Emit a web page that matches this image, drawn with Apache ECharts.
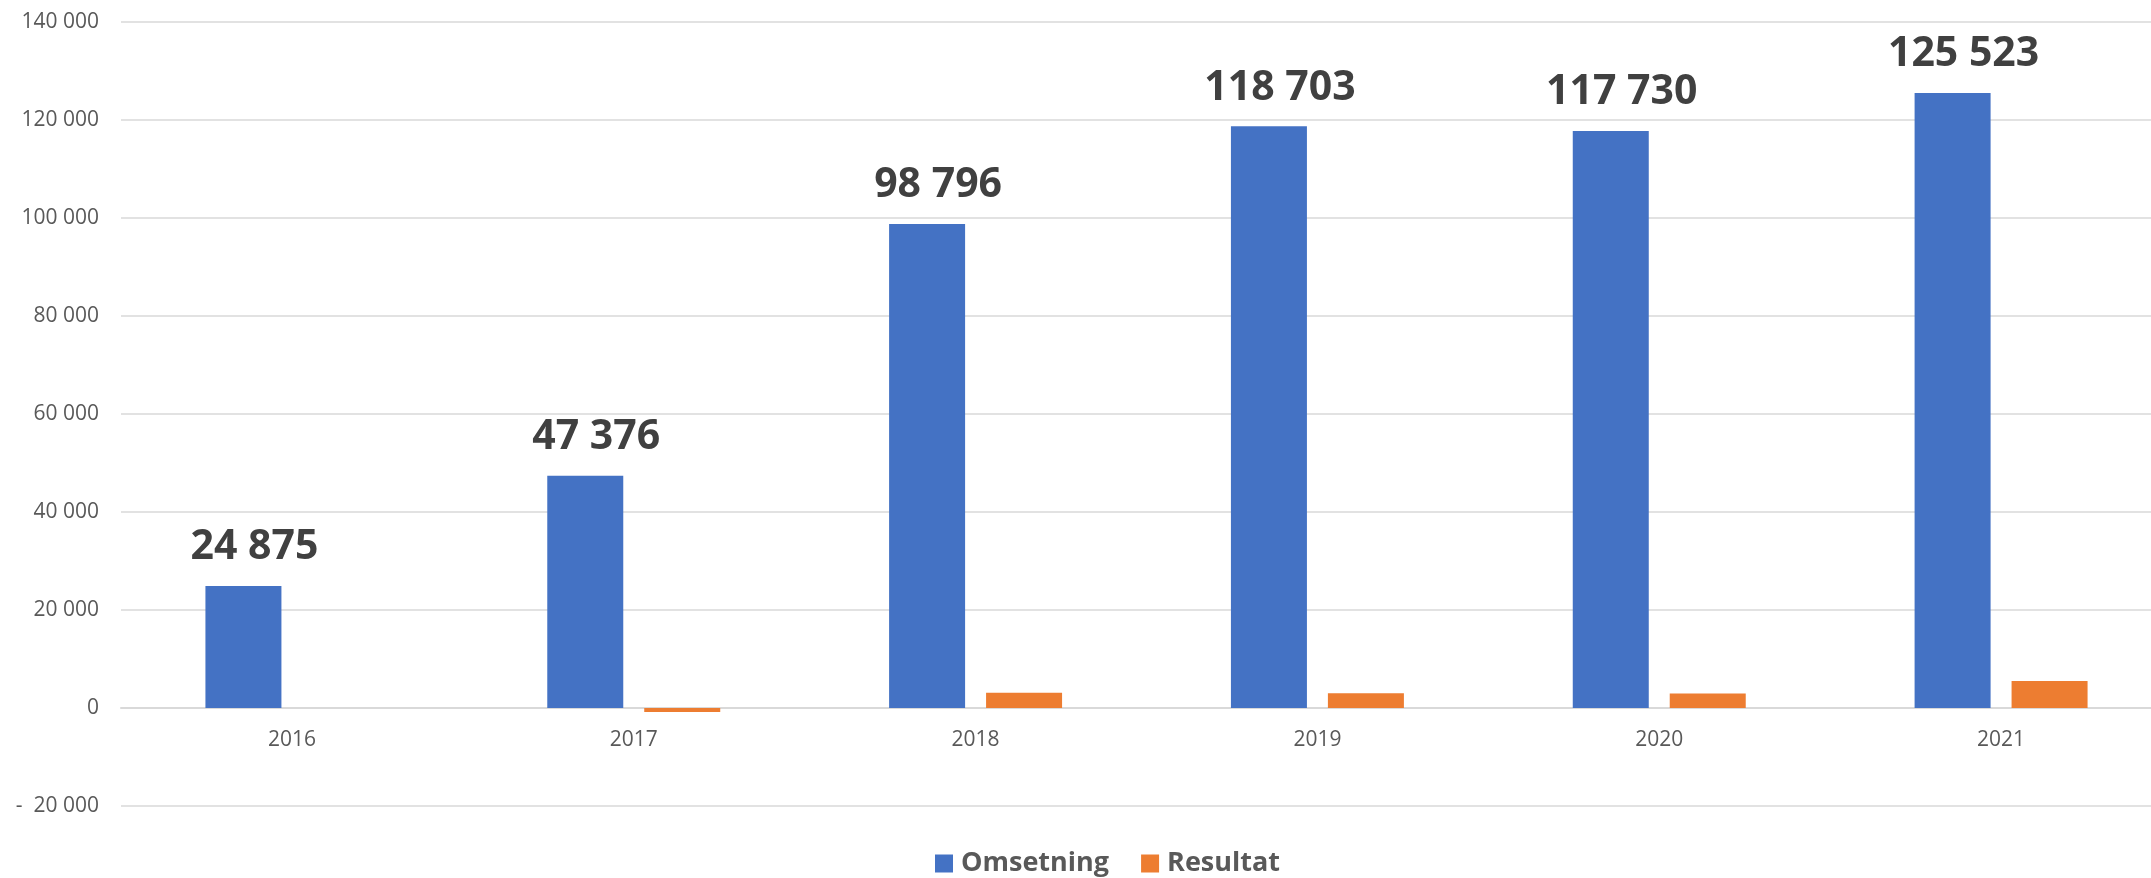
<!DOCTYPE html>
<html>
<head>
<meta charset="utf-8">
<script src="https://cdn.jsdelivr.net/npm/echarts@6/dist/echarts.min.js"></script>
<style>
html,body{margin:0;padding:0;background:#fff;overflow:hidden;}
#chart{width:2172px;height:878px;}
</style>
</head>
<body>
<div id="chart"></div>
<script>
var years = ['2016', '2017', '2018', '2019', '2020', '2021'];
var omsetning = [24875, 47376, 98796, 118703, 117730, 125523];
var resultat = [null, -800, 3100, 3000, 2950, 5500];
var seriesNames = ['Omsetning', 'Resultat'];
var yTicks = { min: -20000, max: 140000, interval: 20000 };

function fmt(v) {
  var s = String(Math.abs(v)).replace(/\B(?=(\d{3})+(?!\d))/g, ' ');
  if (v < 0) return '-  ' + s;
  return s;
}

var chart = echarts.init(document.getElementById('chart'), null, { renderer: 'canvas' });
chart.setOption({
  animation: false,
  backgroundColor: '#ffffff',
  grid: { left: 121, right: 0, top: 22, bottom: 72, containLabel: false },
  legend: {
    data: seriesNames,
    left: 930,
    top: 845,
    icon: 'rect',
    itemWidth: 18,
    itemHeight: 18,
    itemGap: 32,
    textStyle: { fontFamily: 'Open Sans', fontWeight: 'bold', fontSize: 27, color: '#595959', padding: [0, 0, 0, 3] }
  },
  xAxis: {
    type: 'category',
    data: years,
    axisTick: { show: false },
    axisLine: { show: true, onZero: true, lineStyle: { color: '#d9d9d9', width: 2 } },
    axisLabel: { fontFamily: 'Open Sans', fontSize: 21, color: '#595959', margin: -76 },
    splitLine: { show: false }
  },
  yAxis: {
    type: 'value',
    min: yTicks.min,
    max: yTicks.max,
    interval: yTicks.interval,
    axisLine: { show: false },
    axisTick: { show: false },
    axisLabel: { fontFamily: 'Open Sans', fontSize: 21, color: '#595959', margin: 22, formatter: fmt },
    splitLine: { lineStyle: { color: '#d9d9d9', width: 1.5 } }
  },
  series: [
    {
      name: seriesNames[0],
      type: 'bar',
      data: omsetning,
      barWidth: 76,
      barGap: '27.6%',
      itemStyle: { color: '#4472C4' },
      label: {
        show: true,
        position: 'top',
        distance: 18,
        offset: [11, 0],
        fontFamily: 'Open Sans',
        fontWeight: 'bold',
        fontSize: 41,
        color: '#404040',
        formatter: function (p) { return fmt(p.value); }
      }
    },
    {
      name: seriesNames[1],
      type: 'bar',
      data: resultat,
      barWidth: 76,
      barGap: '27.6%',
      itemStyle: { color: '#ED7D31' }
    }
  ]
});
</script>
</body>
</html>
